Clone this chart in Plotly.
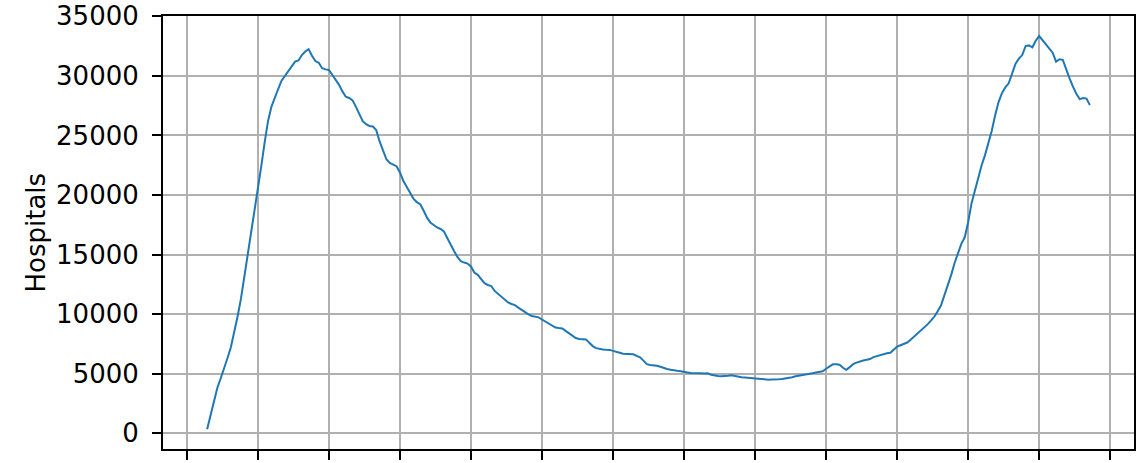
import pandas as pd
import plotly.graph_objects as go

start_date = "2020-03-18"
hospitals = [
    330, 1500, 2700, 3800, 4600, 5400, 6300, 7200, 8400, 9800,
    11300, 13100, 15200, 17000, 18800, 20700, 22400, 24400, 26200, 27400,
    28200, 28900, 29600, 30000, 30350, 30800, 31200, 31300, 31750, 32050,
    32250, 31700, 31250, 31100, 30650, 30550, 30500, 30100, 29700, 29250,
    28700, 28250, 28150, 27950, 27400, 26750, 26200, 25950, 25800, 25750,
    25450, 24500, 23650, 23000, 22700, 22550, 22420, 21900, 21200, 20700,
    20200, 19700, 19400, 19230, 18700, 18100, 17700, 17450, 17280, 17150,
    16950, 16400, 15800, 15300, 14800, 14450, 14330, 14250, 14000, 13500,
    13300, 12900, 12600, 12450, 12360, 11950, 11700, 11450, 11250, 10980,
    10850, 10760, 10550, 10350, 10150, 9980, 9850, 9780, 9730, 9550,
    9380, 9250, 9050, 8880, 8830, 8800, 8600, 8400, 8200, 8000,
    7910, 7900, 7880, 7600, 7320, 7150, 7060, 7030, 7010, 7000,
    6920, 6860, 6760, 6670, 6660, 6650, 6630, 6500, 6380, 6100,
    5800, 5740, 5720, 5670, 5580, 5470, 5390, 5330, 5260, 5240,
    5210, 5190, 5110, 5060, 5030, 5010, 5030, 5020, 5030, 4920,
    4840, 4810, 4790, 4780, 4830, 4860, 4790, 4730, 4700, 4680,
    4650, 4610, 4570, 4530, 4500, 4490, 4500, 4510, 4500, 4530,
    4560, 4600, 4630, 4700, 4790, 4830, 4870, 4920, 4990, 5040,
    5100, 5150, 5200, 5420, 5620, 5790, 5800, 5760, 5500, 5330,
    5550, 5800, 5930, 6040, 6110, 6180, 6230, 6390, 6480, 6560,
    6650, 6720, 6760, 7000, 7270, 7390, 7500, 7620, 7850, 8100,
    8400, 8670, 8900, 9140, 9450, 9780, 10250, 10750, 11600, 12400,
    13300, 14300, 15200, 15900, 16450, 17700, 19300, 20400, 21500, 22500,
    23350, 24400, 25400, 26700, 27800, 28550, 29050, 29380, 30200, 31000,
    31450, 31750, 32500, 32560, 32400, 32950, 33350, 33000, 32700, 32300,
    31950, 31200, 31400, 31350, 30500, 29800, 29100, 28500, 28050, 28150,
    28100, 27550,
]
y_ticks = [0, 5000, 10000, 15000, 20000, 25000, 30000, 35000]
title_text = "COVID patients in hospital"
y_label = "Hospitals"

dates = pd.date_range(start_date, periods=len(hospitals), freq="D")
t0 = pd.Timestamp(start_date)
fmt = "%Y-%m-%d %H:%M:%S"
x_lo = (t0 - pd.Timedelta(days=13.05)).strftime(fmt)
x_hi = (t0 + pd.Timedelta(days=274.05)).strftime(fmt)
tick0 = (t0 - pd.Timedelta(days=6)).strftime(fmt)

FONT = "DejaVu Sans"

fig = go.Figure()
fig.add_trace(go.Scatter(
    x=dates, y=hospitals, mode="lines",
    line=dict(color="#1f77b4", width=2),
    showlegend=False, hoverinfo="skip",
))

fig.update_layout(
    width=1137, height=463,
    margin=dict(l=163, r=1, t=14, b=14),
    paper_bgcolor="white", plot_bgcolor="white",
    font=dict(family=FONT, size=26, color="black"),
    showlegend=False,
)
fig.update_xaxes(
    type="date", range=[x_lo, x_hi],
    tick0=tick0, dtick=21 * 86400000,
    showticklabels=False,
    ticks="outside", ticklen=9, tickwidth=2, tickcolor="black",
    showgrid=True, gridcolor="#b0b0b0", gridwidth=2,
    showline=True, linecolor="black", linewidth=2, mirror=True,
    zeroline=False,
)
fig.update_yaxes(
    range=[-1320, 35030],
    tickmode="array", tickvals=y_ticks, ticktext=[str(v) for v in y_ticks],
    ticks="outside", ticklen=9, tickwidth=2, tickcolor="black",
    ticklabelstandoff=8, ticklabeloverflow="allow",
    tickfont=dict(family=FONT, size=26, color="black"),
    showgrid=True, gridcolor="#b0b0b0", gridwidth=2,
    showline=True, linecolor="black", linewidth=2, mirror=True,
    zeroline=False,
)
fig.add_annotation(
    text=y_label, xref="paper", yref="paper", x=0, y=0.5,
    xanchor="center", yanchor="middle", textangle=-90, xshift=-128,
    showarrow=False, font=dict(family=FONT, size=26, color="black"),
)
fig.add_annotation(
    text=title_text, xref="paper", yref="paper", x=0.5, y=1,
    xanchor="center", yanchor="bottom", yshift=13,
    showarrow=False, font=dict(family=FONT, size=31, color="black"),
)

fig.write_html(
    "out.html",
    config={"displayModeBar": False},
    post_script="document.body.style.margin='0';",
)
